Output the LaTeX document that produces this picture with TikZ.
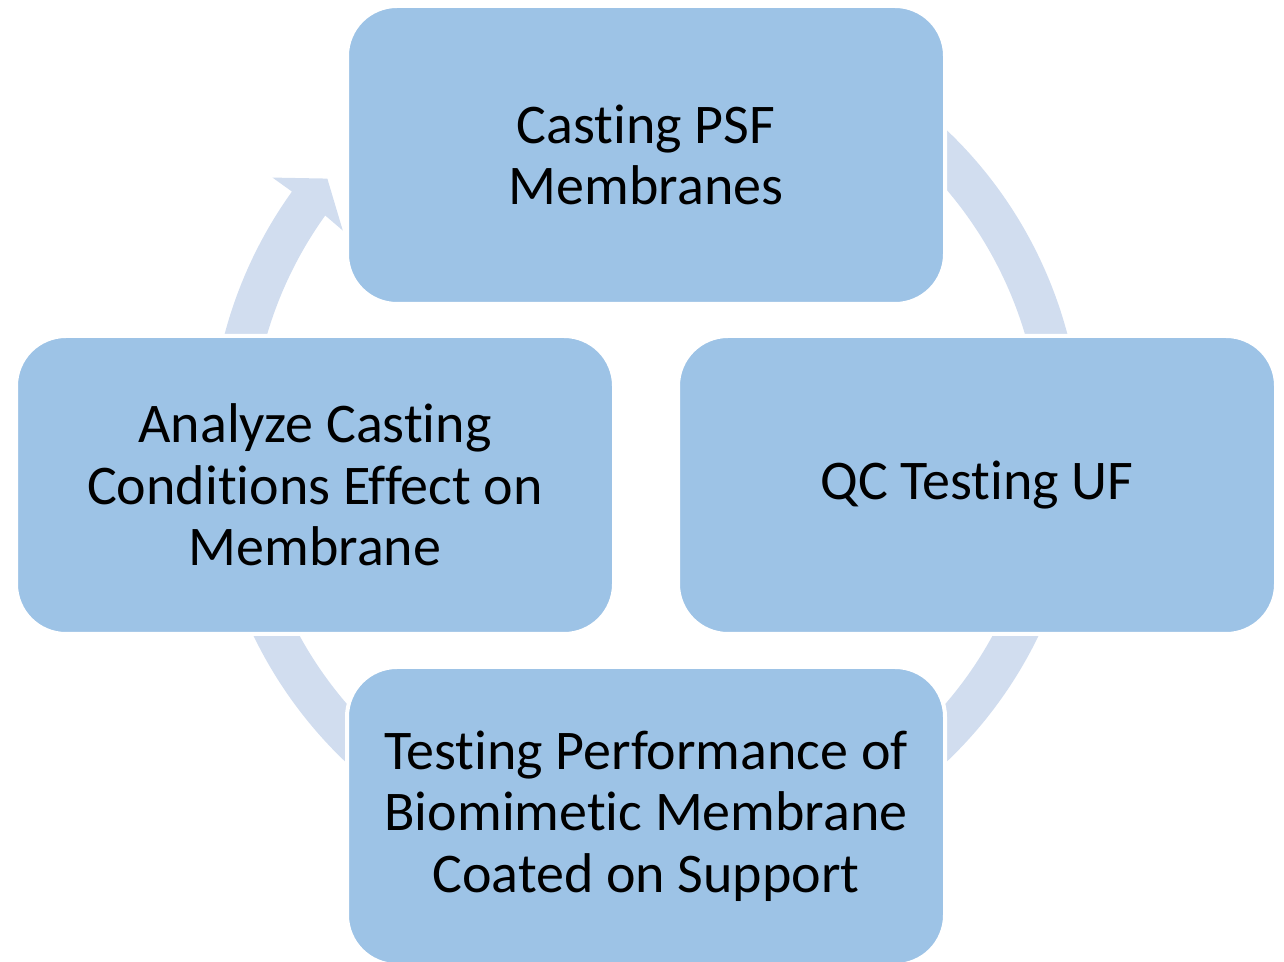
\documentclass[tikz,border=0pt]{standalone}
\usepackage{fontspec}
\setmainfont{Carlito}[Ligatures={NoCommon,NoContextual}]
\definecolor{boxblue}{RGB}{157,195,230}
\definecolor{ringblue}{RGB}{209,221,239}
\begin{document}
\begin{tikzpicture}[x=1pt,y=1pt,
  box/.style={rectangle, rounded corners=50pt, minimum width=598pt, minimum height=298pt,
    fill=boxblue, draw=white, line width=4pt, inner sep=0pt, align=center,
    font=\fontsize{56}{61.5}\selectfont, text=black},
  ring/.style={fill=ringblue}]
\useasboundingbox (0,0) rectangle (1284,961);
\clip (0,0) rectangle (1284,961);
\coordinate (c) at (646,515);
% cycle arrow band (left/top part with arrowhead)
\fill[ring] ([shift={(240:436pt)}]c) arc[start angle=240,end angle=144.3,radius=436pt]
  -- ([shift={(144.3:460pt)}]c) -- ([shift={(140:416pt)}]c) -- ([shift={(144.6:372pt)}]c)
  -- ([shift={(144.3:395pt)}]c) arc[start angle=144.3,end angle=240,radius=395pt] -- cycle;
% right part of band
\fill[ring] ([shift={(60:436pt)}]c) arc[start angle=60,end angle=-60,radius=436pt]
  -- ([shift={(-60:395pt)}]c) arc[start angle=-60,end angle=60,radius=395pt] -- cycle;
% boxes
\node[box] (top) at (646,806) {Casting PSF\\Membranes};
\node[box] (left) at (315,476) {Analyze Casting\\Conditions Effect on\\Membrane};
\node[box] (right) at (977,476) {QC Testing UF};
\node[box] (bottom) at (646,145) {Testing Performance of\\Biomimetic Membrane\\Coated on Support};
\end{tikzpicture}
\end{document}
